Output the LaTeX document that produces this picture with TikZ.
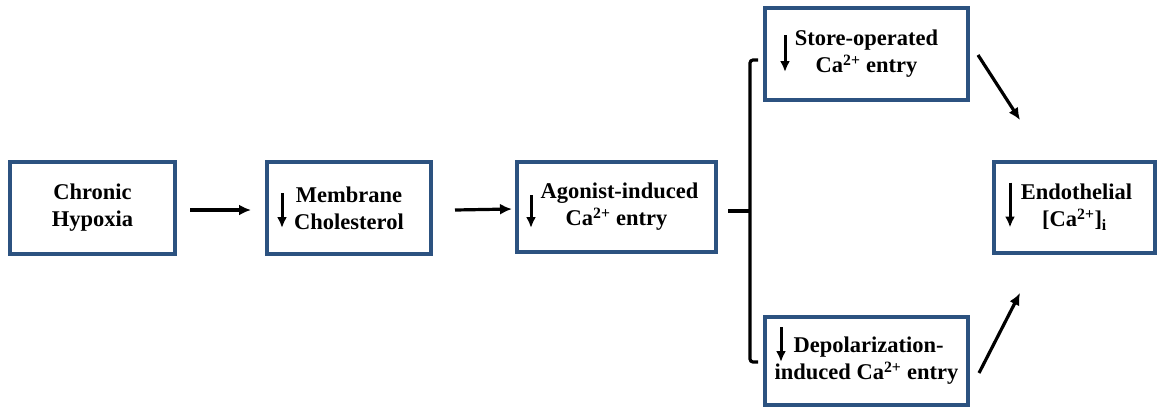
\documentclass[tikz,border=0pt]{standalone}
\usepackage{fontspec}
\setmainfont{Liberation Serif}
\usetikzlibrary{arrows.meta,calc}
\definecolor{boxblue}{RGB}{44,82,128}
\begin{document}
\begin{tikzpicture}[x=1pt,y=-1pt,
  box/.style={draw=boxblue,line width=4pt,inner sep=0pt,align=center,
    font=\fontsize{22.5}{27}\selectfont\bfseries},
  conn/.style={line width=3.2pt,-{Latex[length=12pt,width=11pt]}},
  downarr/.style={line width=3pt,-{Latex[length=11pt,width=10pt]}},
  bracket/.style={line width=3.2pt,rounded corners=3pt}]
\useasboundingbox (0,0) rectangle (1158,410);
\node[box,minimum width=165pt,minimum height=92pt] (b1) at (92.5,208) {Chronic\\Hypoxia};
\node[box,minimum width=164pt,minimum height=92pt] (b2) at (349,208) {Membrane\\Cholesterol};
\node[box,minimum width=199pt,minimum height=90pt] (b3) at (616.5,207) {\hspace*{6pt}Agonist-induced\\Ca\textsuperscript{2+} entry};
\node[box,minimum width=203pt,minimum height=92pt] (b4) at (866.5,54) {Store-operated\\Ca\textsuperscript{2+} entry};
\node[box,minimum width=203pt,minimum height=88pt] (b5) at (866.5,361) {\hspace*{4pt}Depolarization-\\induced Ca\textsuperscript{2+} entry};
\node[box,minimum width=161pt,minimum height=91pt] (b6) at (1074.5,207.5) {\hspace*{4pt}Endothelial\\{}[Ca\textsuperscript{2+}]\textsubscript{i}};
% down arrows inside boxes
\draw[downarr] ([shift={(17,-15)}]b2.west) -- ++(0,35);
\draw[downarr] ([shift={(16,-12)}]b3.west) -- ++(0,33);
\draw[downarr] ([shift={(22,-19)}]b4.west) -- ++(0,37);
\draw[downarr] ([shift={(18,-34)}]b5.west) -- ++(0,35);
\draw[downarr] ([shift={(18,-25)}]b6.west) -- ++(0,45);
% connectors
\draw[conn] ([shift={(13,2)}]b1.east) -- ([shift={(-14,2)}]b2.west);
\draw[conn] ([shift={(22,2)}]b2.east) -- ([shift={(-3,2)}]b3.west);
\coordinate (bk) at (750,211);
\draw[line width=3.2pt] ([shift={(10,4)}]b3.east) -- (bk);
\draw[bracket] ([shift={(-5,6)}]b4.west) -| (bk) |- ([shift={(-5,1)}]b5.west);
\draw[conn] ([shift={(8,1)}]b4.east) -- ([shift={(28,-40)}]b6.north west);
\draw[conn] ([shift={(9,12)}]b5.east) -- ([shift={(28,38)}]b6.south west);
\end{tikzpicture}
\end{document}
